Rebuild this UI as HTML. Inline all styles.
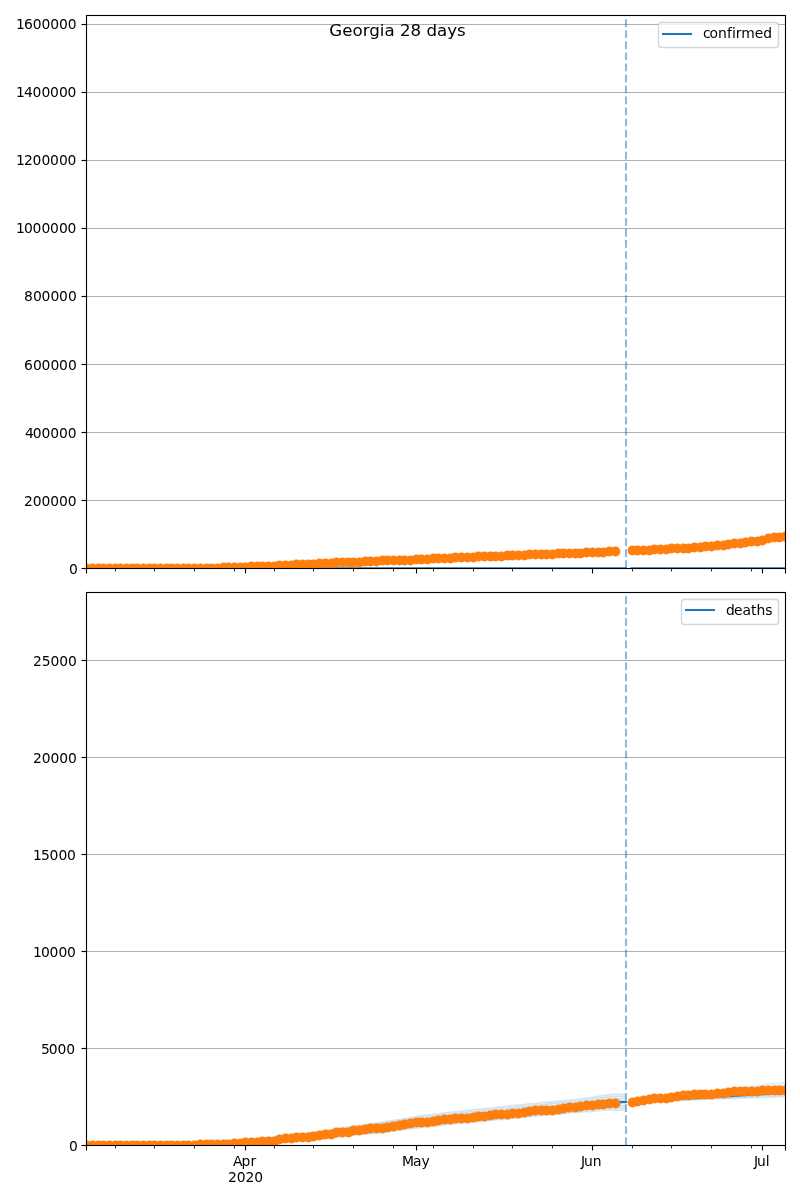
<!DOCTYPE html>
<html lang="en"><head><meta charset="utf-8"><title>Georgia 28 days</title>
<style>html,body{margin:0;padding:0;background:#fff}body{width:800px;height:1200px;overflow:hidden}svg{display:block}text{font-family:"DejaVu Sans","Liberation Sans",sans-serif;font-size:13.889px;fill:#000}.g{stroke:#b0b0b0;stroke-width:1.11}.s{stroke:#000;stroke-width:1.11;fill:none}.t{stroke:#000;stroke-width:1.11}.m{stroke:#000;stroke-width:0.83}.b{stroke:#1f77b4;stroke-width:2.083;fill:none;stroke-linecap:square}.o{fill:#ff7f0e}.v{stroke:#1f77b4;stroke-opacity:.5;stroke-width:2.083;stroke-dasharray:7.708 3.333;fill:none}</style></head><body>
<svg width="800" height="1200" viewBox="0 0 800 1200">
<rect width="800" height="1200" fill="#fff"/>
<defs><clipPath id="c0"><rect x="86.22" y="15" width="698.78" height="553.29"/></clipPath><clipPath id="c1"><rect x="86.22" y="591.79" width="698.78" height="553.29"/></clipPath></defs>
<g id="ax0">
<line class="g" x1="86.22" x2="785" y1="568.5" y2="568.5"/>
<line class="g" x1="86.22" x2="785" y1="500.5" y2="500.5"/>
<line class="g" x1="86.22" x2="785" y1="432.5" y2="432.5"/>
<line class="g" x1="86.22" x2="785" y1="364.5" y2="364.5"/>
<line class="g" x1="86.22" x2="785" y1="296.5" y2="296.5"/>
<line class="g" x1="86.22" x2="785" y1="228.5" y2="228.5"/>
<line class="g" x1="86.22" x2="785" y1="160.5" y2="160.5"/>
<line class="g" x1="86.22" x2="785" y1="92.5" y2="92.5"/>
<line class="g" x1="86.22" x2="785" y1="24.5" y2="24.5"/>
<g clip-path="url(#c0)"><path class="b" style="stroke-linecap:butt" d="M85,568.29 H626.97 M630.57,568.29 H787"/></g>
<g class="o" clip-path="url(#c0)">
<circle cx="86.5" cy="568.5" r="4.9"/>
<circle cx="92.5" cy="568.5" r="4.9"/>
<circle cx="98.5" cy="568.5" r="4.9"/>
<circle cx="103.5" cy="568.5" r="4.9"/>
<circle cx="109.5" cy="568.5" r="4.9"/>
<circle cx="115.5" cy="568.5" r="4.9"/>
<circle cx="120.5" cy="568.5" r="4.9"/>
<circle cx="126.5" cy="568.5" r="4.9"/>
<circle cx="132.5" cy="568.5" r="4.9"/>
<circle cx="137.5" cy="568.5" r="4.9"/>
<circle cx="143.5" cy="568.5" r="4.9"/>
<circle cx="149.5" cy="568.5" r="4.9"/>
<circle cx="154.5" cy="568.5" r="4.9"/>
<circle cx="160.5" cy="568.5" r="4.9"/>
<circle cx="166.5" cy="568.5" r="4.9"/>
<circle cx="171.5" cy="568.5" r="4.9"/>
<circle cx="177.5" cy="568.5" r="4.9"/>
<circle cx="183.5" cy="568.5" r="4.9"/>
<circle cx="188.5" cy="568.5" r="4.9"/>
<circle cx="194.5" cy="568.5" r="4.9"/>
<circle cx="200.5" cy="568.5" r="4.9"/>
<circle cx="206.5" cy="568.5" r="4.9"/>
<circle cx="211.5" cy="568.5" r="4.9"/>
<circle cx="217.5" cy="568.5" r="4.9"/>
<circle cx="223.5" cy="567.5" r="4.9"/>
<circle cx="228.5" cy="567.5" r="4.9"/>
<circle cx="234.5" cy="567.5" r="4.9"/>
<circle cx="240.5" cy="567.5" r="4.9"/>
<circle cx="245.5" cy="567.5" r="4.9"/>
<circle cx="251.5" cy="566.5" r="4.9"/>
<circle cx="257.5" cy="566.5" r="4.9"/>
<circle cx="262.5" cy="566.5" r="4.9"/>
<circle cx="268.5" cy="566.5" r="4.9"/>
<circle cx="274.5" cy="566.5" r="4.9"/>
<circle cx="279.5" cy="565.5" r="4.9"/>
<circle cx="285.5" cy="565.5" r="4.9"/>
<circle cx="291.5" cy="565.5" r="4.9"/>
<circle cx="296.5" cy="564.5" r="4.9"/>
<circle cx="302.5" cy="564.5" r="4.9"/>
<circle cx="308.5" cy="564.5" r="4.9"/>
<circle cx="313.5" cy="564.5" r="4.9"/>
<circle cx="319.5" cy="563.5" r="4.9"/>
<circle cx="325.5" cy="563.5" r="4.9"/>
<circle cx="331.5" cy="563.5" r="4.9"/>
<circle cx="336.5" cy="562.5" r="4.9"/>
<circle cx="342.5" cy="562.5" r="4.9"/>
<circle cx="348.5" cy="562.5" r="4.9"/>
<circle cx="353.5" cy="562.5" r="4.9"/>
<circle cx="359.5" cy="562.5" r="4.9"/>
<circle cx="365.5" cy="561.5" r="4.9"/>
<circle cx="370.5" cy="561.5" r="4.9"/>
<circle cx="376.5" cy="561.5" r="4.9"/>
<circle cx="382.5" cy="560.5" r="4.9"/>
<circle cx="387.5" cy="560.5" r="4.9"/>
<circle cx="393.5" cy="560.5" r="4.9"/>
<circle cx="399.5" cy="560.5" r="4.9"/>
<circle cx="404.5" cy="560.5" r="4.9"/>
<circle cx="410.5" cy="560.5" r="4.9"/>
<circle cx="416.5" cy="559.5" r="4.9"/>
<circle cx="421.5" cy="559.5" r="4.9"/>
<circle cx="427.5" cy="559.5" r="4.9"/>
<circle cx="433.5" cy="558.5" r="4.9"/>
<circle cx="438.5" cy="558.5" r="4.9"/>
<circle cx="444.5" cy="558.5" r="4.9"/>
<circle cx="450.5" cy="558.5" r="4.9"/>
<circle cx="455.5" cy="557.5" r="4.9"/>
<circle cx="461.5" cy="557.5" r="4.9"/>
<circle cx="467.5" cy="557.5" r="4.9"/>
<circle cx="473.5" cy="557.5" r="4.9"/>
<circle cx="478.5" cy="556.5" r="4.9"/>
<circle cx="484.5" cy="556.5" r="4.9"/>
<circle cx="490.5" cy="556.5" r="4.9"/>
<circle cx="495.5" cy="556.5" r="4.9"/>
<circle cx="501.5" cy="556.5" r="4.9"/>
<circle cx="507.5" cy="555.5" r="4.9"/>
<circle cx="512.5" cy="555.5" r="4.9"/>
<circle cx="518.5" cy="555.5" r="4.9"/>
<circle cx="524.5" cy="555.5" r="4.9"/>
<circle cx="529.5" cy="554.5" r="4.9"/>
<circle cx="535.5" cy="554.5" r="4.9"/>
<circle cx="541.5" cy="554.5" r="4.9"/>
<circle cx="546.5" cy="554.5" r="4.9"/>
<circle cx="552.5" cy="554.5" r="4.9"/>
<circle cx="558.5" cy="553.5" r="4.9"/>
<circle cx="563.5" cy="553.5" r="4.9"/>
<circle cx="569.5" cy="553.5" r="4.9"/>
<circle cx="575.5" cy="553.5" r="4.9"/>
<circle cx="580.5" cy="553.5" r="4.9"/>
<circle cx="586.5" cy="552.5" r="4.9"/>
<circle cx="592.5" cy="552.5" r="4.9"/>
<circle cx="598.5" cy="552.5" r="4.9"/>
<circle cx="603.5" cy="552.5" r="4.9"/>
<circle cx="609.5" cy="551.5" r="4.9"/>
<circle cx="615.5" cy="551.5" r="4.9"/>
<circle cx="632.5" cy="550.5" r="4.9"/>
<circle cx="637.5" cy="550.5" r="4.9"/>
<circle cx="643.5" cy="550.5" r="4.9"/>
<circle cx="649.5" cy="550.5" r="4.9"/>
<circle cx="654.5" cy="549.5" r="4.9"/>
<circle cx="660.5" cy="549.5" r="4.9"/>
<circle cx="666.5" cy="549.5" r="4.9"/>
<circle cx="671.5" cy="548.5" r="4.9"/>
<circle cx="677.5" cy="548.5" r="4.9"/>
<circle cx="683.5" cy="548.5" r="4.9"/>
<circle cx="688.5" cy="548.5" r="4.9"/>
<circle cx="694.5" cy="547.5" r="4.9"/>
<circle cx="700.5" cy="547.5" r="4.9"/>
<circle cx="705.5" cy="546.5" r="4.9"/>
<circle cx="711.5" cy="546.5" r="4.9"/>
<circle cx="717.5" cy="545.5" r="4.9"/>
<circle cx="723.5" cy="545.5" r="4.9"/>
<circle cx="728.5" cy="544.5" r="4.9"/>
<circle cx="734.5" cy="543.5" r="4.9"/>
<circle cx="740.5" cy="543.5" r="4.9"/>
<circle cx="745.5" cy="542.5" r="4.9"/>
<circle cx="751.5" cy="541.5" r="4.9"/>
<circle cx="757.5" cy="541.5" r="4.9"/>
<circle cx="762.5" cy="540.5" r="4.9"/>
<circle cx="768.5" cy="538.5" r="4.9"/>
<circle cx="774.5" cy="537.5" r="4.9"/>
<circle cx="779.5" cy="537.5" r="4.9"/>
<circle cx="785.5" cy="536.5" r="4.9"/>
</g>
<line class="v" x1="626" x2="626" y1="568" y2="15"/>
<rect class="s" x="86.5" y="15.5" width="699" height="553"/>
<line class="t" x1="81.5" x2="86.5" y1="568.5" y2="568.5"/>
<text x="69" y="574">0</text>
<line class="t" x1="81.5" x2="86.5" y1="500.5" y2="500.5"/>
<text x="24 32.75 41.5 50.25 59 67.75" y="506">200000</text>
<line class="t" x1="81.5" x2="86.5" y1="432.5" y2="432.5"/>
<text x="25 32.75 41.5 50.25 59 67.75" y="438">400000</text>
<line class="t" x1="81.5" x2="86.5" y1="364.5" y2="364.5"/>
<text x="24 32.88 41.62 50.38 59.12 67.88" y="370">600000</text>
<line class="t" x1="81.5" x2="86.5" y1="296.5" y2="296.5"/>
<text x="24 32.88 41.62 50.38 59.12 67.88" y="301">800000</text>
<line class="t" x1="81.5" x2="86.5" y1="228.5" y2="228.5"/>
<text x="16 23.88 32.62 41.38 50.12 58.88 67.62" y="233">1000000</text>
<line class="t" x1="81.5" x2="86.5" y1="160.5" y2="160.5"/>
<text x="16 23.88 32.62 41.38 50.12 58.88 67.62" y="165">1200000</text>
<line class="t" x1="81.5" x2="86.5" y1="92.5" y2="92.5"/>
<text x="16 23.88 32.62 41.38 50.12 58.88 67.62" y="97">1400000</text>
<line class="t" x1="81.5" x2="86.5" y1="24.5" y2="24.5"/>
<text x="16 23.88 32.75 41.5 50.25 59 67.75" y="29">1600000</text>
<line class="t" x1="86.5" x2="86.5" y1="568.5" y2="573.5"/>
<line class="t" x1="245.5" x2="245.5" y1="568.5" y2="573.5"/>
<line class="t" x1="416.5" x2="416.5" y1="568.5" y2="573.5"/>
<line class="t" x1="592.5" x2="592.5" y1="568.5" y2="573.5"/>
<line class="t" x1="762.5" x2="762.5" y1="568.5" y2="573.5"/>
<line class="t" x1="785.5" x2="785.5" y1="568.5" y2="573.5"/>
<line class="m" x1="115.5" x2="115.5" y1="568.5" y2="571.5"/>
<line class="m" x1="154.5" x2="154.5" y1="568.5" y2="571.5"/>
<line class="m" x1="194.5" x2="194.5" y1="568.5" y2="571.5"/>
<line class="m" x1="234.5" x2="234.5" y1="568.5" y2="571.5"/>
<line class="m" x1="274.5" x2="274.5" y1="568.5" y2="571.5"/>
<line class="m" x1="313.5" x2="313.5" y1="568.5" y2="571.5"/>
<line class="m" x1="353.5" x2="353.5" y1="568.5" y2="571.5"/>
<line class="m" x1="393.5" x2="393.5" y1="568.5" y2="571.5"/>
<line class="m" x1="433.5" x2="433.5" y1="568.5" y2="571.5"/>
<line class="m" x1="473.5" x2="473.5" y1="568.5" y2="571.5"/>
<line class="m" x1="512.5" x2="512.5" y1="568.5" y2="571.5"/>
<line class="m" x1="552.5" x2="552.5" y1="568.5" y2="571.5"/>
<line class="m" x1="592.5" x2="592.5" y1="568.5" y2="571.5"/>
<line class="m" x1="632.5" x2="632.5" y1="568.5" y2="571.5"/>
<line class="m" x1="671.5" x2="671.5" y1="568.5" y2="571.5"/>
<line class="m" x1="711.5" x2="711.5" y1="568.5" y2="571.5"/>
<line class="m" x1="751.5" x2="751.5" y1="568.5" y2="571.5"/>
<rect x="658.5" y="22.5" width="120" height="25" rx="2.78" ry="2.78" fill="#fff" fill-opacity="0.8" stroke="#ccc" stroke-opacity="0.8" stroke-width="1.389"/>
<line x1="662" x2="692" y1="34" y2="34" stroke="#1f77b4" stroke-width="2.083"/>
<text x="703 709.62 718.12 726.88 731.88 735.75 741.25 754.75 763.25" y="38">confirmed</text>
</g>
<g id="ax1">
<g clip-path="url(#c1)" fill="none" stroke="#1f77b4" stroke-width="1.5" stroke-opacity="0.16" stroke-linejoin="round">
<path stroke="none" fill="#1f77b4" fill-opacity="0.07" d="M86.22,1144.58 91.9,1144.51 97.58,1144.43 103.27,1144.36 108.95,1144.29 114.63,1144.22 120.31,1144.14 125.99,1144.07 131.67,1144 137.35,1143.92 143.03,1143.85 148.71,1143.77 154.4,1143.68 160.08,1143.57 165.76,1143.46 171.44,1143.33 177.12,1143.19 182.8,1143.04 188.48,1142.86 194.16,1142.68 199.84,1142.47 205.53,1142.24 211.21,1142.01 216.89,1141.77 222.57,1141.49 228.25,1141.14 233.93,1140.75 239.61,1140.36 245.29,1139.9 250.97,1139.47 256.66,1139.01 262.34,1138.32 268.02,1137.63 273.7,1136.96 279.38,1136.24 285.06,1135.56 290.74,1134.82 296.42,1134.05 302.1,1133.45 307.79,1132.81 313.47,1132.14 319.15,1131.37 324.83,1130.57 330.51,1129.75 336.19,1128.77 341.87,1127.82 347.55,1126.92 353.23,1125.98 358.92,1125.19 364.6,1124.43 370.28,1123.68 375.96,1122.97 381.64,1122.14 387.32,1121.26 393,1120.37 398.68,1119.43 404.36,1118.51 410.05,1117.61 415.73,1116.68 421.41,1115.8 427.09,1114.99 432.77,1114.32 438.45,1113.62 444.13,1112.94 449.81,1112.25 455.5,1111.64 461.18,1111.03 466.86,1110.44 472.54,1109.84 478.22,1109.26 483.9,1108.64 489.58,1108.02 495.26,1107.38 500.94,1106.82 506.63,1106.29 512.31,1105.59 517.99,1105.04 523.67,1104.47 529.35,1103.87 535.03,1103.38 540.71,1102.85 546.39,1102.27 552.07,1101.79 557.76,1101.27 563.44,1100.73 569.12,1100.09 574.8,1099.41 580.48,1098.75 586.16,1097.98 591.84,1097.32 597.52,1096.25 603.2,1095.41 608.89,1094.8 614.57,1094.3 620.25,1093.9 625.93,1093.67 625.93,1110.67 620.25,1110.33 614.57,1110.17 608.89,1110.11 603.2,1110.16 597.52,1110.67 591.84,1111.41 586.16,1111.75 580.48,1112.18 574.8,1112.62 569.12,1113.09 563.44,1113.72 557.76,1114.25 552.07,1114.77 546.39,1115.24 540.71,1115.81 535.03,1116.33 529.35,1116.81 523.67,1117.41 517.99,1117.96 512.31,1118.5 506.63,1119.13 500.94,1119.6 495.26,1120.09 489.58,1120.66 483.9,1121.21 478.22,1121.76 472.54,1122.28 466.86,1122.8 461.18,1123.32 455.5,1123.87 449.81,1124.41 444.13,1125.03 438.45,1125.65 432.77,1126.27 427.09,1126.87 421.41,1127.5 415.73,1128.21 410.05,1128.96 404.36,1129.68 398.68,1130.42 393,1131.18 387.32,1131.89 381.64,1132.6 375.96,1133.25 370.28,1133.78 364.6,1134.25 358.92,1134.74 353.23,1135.26 347.55,1135.92 341.87,1136.56 336.19,1137.23 330.51,1137.94 324.83,1138.49 319.15,1139.01 313.47,1139.51 307.79,1139.9 302.1,1140.27 296.42,1140.6 290.74,1141.09 285.06,1141.56 279.38,1142.09 273.7,1142.68 268.02,1143.2 262.34,1143.75 256.66,1144.29 250.97,1144.61 245.29,1144.9 239.61,1145.22 233.93,1145.47 228.25,1145.72 222.57,1145.92 216.89,1146.06 211.21,1146.16 205.53,1146.24 199.84,1146.32 194.16,1146.39 188.48,1146.43 182.8,1146.47 177.12,1146.48 171.44,1146.47 165.76,1146.46 160.08,1146.43 154.4,1146.39 148.71,1146.34 143.03,1146.28 137.35,1146.21 131.67,1146.14 125.99,1146.07 120.31,1146 114.63,1145.93 108.95,1145.86 103.27,1145.79 97.58,1145.72 91.9,1145.65 86.22,1145.58Z"/>
<polyline points="86.22,1145.58 91.9,1145.65 97.58,1145.72 103.27,1145.79 108.95,1145.86 114.63,1145.93 120.31,1146 125.99,1146.07 131.67,1146.14 137.35,1146.21 143.03,1146.28 148.71,1146.34 154.4,1146.39 160.08,1146.43 165.76,1146.46 171.44,1146.47 177.12,1146.48 182.8,1146.47 188.48,1146.43 194.16,1146.39 199.84,1146.32 205.53,1146.24 211.21,1146.16 216.89,1146.06 222.57,1145.92 228.25,1145.72 233.93,1145.47 239.61,1145.22 245.29,1144.9 250.97,1144.61 256.66,1144.29 262.34,1143.75 268.02,1143.2 273.7,1142.68 279.38,1142.09 285.06,1141.56 290.74,1141.09 296.42,1140.6 302.1,1140.27 307.79,1139.9 313.47,1139.51 319.15,1139.01 324.83,1138.49 330.51,1137.94 336.19,1137.23 341.87,1136.56 347.55,1135.92 353.23,1135.26 358.92,1134.74 364.6,1134.25 370.28,1133.78 375.96,1133.25 381.64,1132.6 387.32,1131.89 393,1131.18 398.68,1130.42 404.36,1129.68 410.05,1128.96 415.73,1128.21 421.41,1127.5 427.09,1126.87 432.77,1126.27 438.45,1125.65 444.13,1125.03 449.81,1124.41 455.5,1123.87 461.18,1123.32 466.86,1122.8 472.54,1122.28 478.22,1121.76 483.9,1121.21 489.58,1120.66 495.26,1120.09 500.94,1119.6 506.63,1119.13 512.31,1118.5 517.99,1117.96 523.67,1117.41 529.35,1116.81 535.03,1116.33 540.71,1115.81 546.39,1115.24 552.07,1114.77 557.76,1114.25 563.44,1113.72 569.12,1113.09 574.8,1112.62 580.48,1112.18 586.16,1111.75 591.84,1111.41 597.52,1110.67 603.2,1110.16 608.89,1110.11 614.57,1110.17 620.25,1110.33 625.93,1110.67"/>
<polyline points="86.22,1145.44 91.9,1145.49 97.58,1145.54 103.27,1145.59 108.95,1145.64 114.63,1145.69 120.31,1145.74 125.99,1145.79 131.67,1145.84 137.35,1145.89 143.03,1145.94 148.71,1145.98 154.4,1146.01 160.08,1146.03 165.76,1146.04 171.44,1146.03 177.12,1146.02 182.8,1145.99 188.48,1145.93 194.16,1145.87 199.84,1145.78 205.53,1145.68 211.21,1145.58 216.89,1145.46 222.57,1145.3 228.25,1145.08 233.93,1144.81 239.61,1144.54 245.29,1144.2 250.97,1143.89 256.66,1143.55 262.34,1142.99 268.02,1142.42 273.7,1141.88 279.38,1141.27 285.06,1140.72 290.74,1140.21 296.42,1139.67 302.1,1139.3 307.79,1138.89 313.47,1138.45 319.15,1137.92 324.83,1137.35 330.51,1136.75 336.19,1136 341.87,1135.29 347.55,1134.61 353.23,1133.9 358.92,1133.34 364.6,1132.81 370.28,1132.3 375.96,1131.76 381.64,1131.11 387.32,1130.4 393,1129.69 398.68,1128.92 404.36,1128.18 410.05,1127.45 415.73,1126.71 421.41,1126 427.09,1125.37 432.77,1124.76 438.45,1124.13 444.13,1123.51 449.81,1122.89 455.5,1122.35 461.18,1121.8 466.86,1121.28 472.54,1120.75 478.22,1120.23 483.9,1119.68 489.58,1119.12 495.26,1118.55 500.94,1118.06 506.63,1117.59 512.31,1116.96 517.99,1116.42 523.67,1115.86 529.35,1115.26 535.03,1114.77 540.71,1114.25 546.39,1113.68 552.07,1113.21 557.76,1112.69 563.44,1112.15 569.12,1111.52 574.8,1110.99 580.48,1110.49 586.16,1110 591.84,1109.6 597.52,1108.8 603.2,1108.23 608.89,1108.05 614.57,1107.99 620.25,1108.02 625.93,1108.23"/>
<polyline points="86.22,1145.3 91.9,1145.33 97.58,1145.36 103.27,1145.39 108.95,1145.42 114.63,1145.45 120.31,1145.48 125.99,1145.51 131.67,1145.54 137.35,1145.57 143.03,1145.6 148.71,1145.62 154.4,1145.63 160.08,1145.63 165.76,1145.62 171.44,1145.59 177.12,1145.56 182.8,1145.51 188.48,1145.43 194.16,1145.35 199.84,1145.24 205.53,1145.12 211.21,1145 216.89,1144.86 222.57,1144.68 228.25,1144.44 233.93,1144.15 239.61,1143.86 245.29,1143.5 250.97,1143.17 256.66,1142.81 262.34,1142.23 268.02,1141.64 273.7,1141.08 279.38,1140.45 285.06,1139.88 290.74,1139.33 296.42,1138.74 302.1,1138.34 307.79,1137.88 313.47,1137.4 319.15,1136.82 324.83,1136.21 330.51,1135.57 336.19,1134.78 341.87,1134.02 347.55,1133.3 353.23,1132.55 358.92,1131.94 364.6,1131.37 370.28,1130.81 375.96,1130.28 381.64,1129.62 387.32,1128.91 393,1128.19 398.68,1127.43 404.36,1126.68 410.05,1125.95 415.73,1125.2 421.41,1124.49 427.09,1123.86 432.77,1123.25 438.45,1122.62 444.13,1122 449.81,1121.37 455.5,1120.83 461.18,1120.28 466.86,1119.75 472.54,1119.22 478.22,1118.7 483.9,1118.14 489.58,1117.59 495.26,1117.02 500.94,1116.52 506.63,1116.05 512.31,1115.41 517.99,1114.87 523.67,1114.31 529.35,1113.71 535.03,1113.22 540.71,1112.7 546.39,1112.12 552.07,1111.64 557.76,1111.12 563.44,1110.59 569.12,1109.95 574.8,1109.37 580.48,1108.8 586.16,1108.25 591.84,1107.79 597.52,1106.93 603.2,1106.3 608.89,1105.99 614.57,1105.8 620.25,1105.71 625.93,1105.79"/>
<polyline points="86.22,1145.16 91.9,1145.17 97.58,1145.18 103.27,1145.19 108.95,1145.2 114.63,1145.21 120.31,1145.22 125.99,1145.23 131.67,1145.24 137.35,1145.25 143.03,1145.26 148.71,1145.26 154.4,1145.25 160.08,1145.23 165.76,1145.2 171.44,1145.15 177.12,1145.1 182.8,1145.03 188.48,1144.93 194.16,1144.83 199.84,1144.7 205.53,1144.56 211.21,1144.42 216.89,1144.26 222.57,1144.06 228.25,1143.8 233.93,1143.49 239.61,1143.18 245.29,1142.8 250.97,1142.45 256.66,1142.07 262.34,1141.47 268.02,1140.86 273.7,1140.28 279.38,1139.63 285.06,1139.04 290.74,1138.45 296.42,1137.82 302.1,1137.37 307.79,1136.87 313.47,1136.34 319.15,1135.72 324.83,1135.07 330.51,1134.39 336.19,1133.55 341.87,1132.75 347.55,1131.99 353.23,1131.19 358.92,1130.54 364.6,1129.93 370.28,1129.33 375.96,1128.79 381.64,1128.13 387.32,1127.42 393,1126.7 398.68,1125.93 404.36,1125.19 410.05,1124.45 415.73,1123.7 421.41,1122.99 427.09,1122.35 432.77,1121.74 438.45,1121.11 444.13,1120.48 449.81,1119.85 455.5,1119.31 461.18,1118.76 466.86,1118.23 472.54,1117.69 478.22,1117.17 483.9,1116.61 489.58,1116.06 495.26,1115.48 500.94,1114.98 506.63,1114.51 512.31,1113.87 517.99,1113.33 523.67,1112.76 529.35,1112.16 535.03,1111.66 540.71,1111.14 546.39,1110.56 552.07,1110.08 557.76,1109.56 563.44,1109.02 569.12,1108.39 574.8,1107.74 580.48,1107.12 586.16,1106.5 591.84,1105.98 597.52,1105.05 603.2,1104.36 608.89,1103.94 614.57,1103.62 620.25,1103.4 625.93,1103.36"/>
<polyline points="86.22,1145 91.9,1144.99 97.58,1144.97 103.27,1144.96 108.95,1144.95 114.63,1144.94 120.31,1144.92 125.99,1144.91 131.67,1144.9 137.35,1144.88 143.03,1144.87 148.71,1144.85 154.4,1144.82 160.08,1144.77 165.76,1144.72 171.44,1144.65 177.12,1144.57 182.8,1144.48 188.48,1144.36 194.16,1144.24 199.84,1144.09 205.53,1143.92 211.21,1143.75 216.89,1143.57 222.57,1143.35 228.25,1143.06 233.93,1142.73 239.61,1142.4 245.29,1142 250.97,1141.63 256.66,1141.23 262.34,1140.6 268.02,1139.97 273.7,1139.36 279.38,1138.7 285.06,1138.08 290.74,1137.44 296.42,1136.77 302.1,1136.28 307.79,1135.73 313.47,1135.17 319.15,1134.5 324.83,1133.8 330.51,1133.08 336.19,1132.2 341.87,1131.35 347.55,1130.55 353.23,1129.71 358.92,1129.02 364.6,1128.36 370.28,1127.71 375.96,1127.14 381.64,1126.46 387.32,1125.72 393,1124.97 398.68,1124.17 404.36,1123.4 410.05,1122.64 415.73,1121.86 421.41,1121.11 427.09,1120.45 432.77,1119.83 438.45,1119.18 444.13,1118.55 449.81,1117.91 455.5,1117.35 461.18,1116.79 466.86,1116.25 472.54,1115.71 478.22,1115.17 483.9,1114.6 489.58,1114.03 495.26,1113.45 500.94,1112.93 506.63,1112.45 512.31,1111.8 517.99,1111.26 523.67,1110.69 529.35,1110.09 535.03,1109.59 540.71,1109.07 546.39,1108.49 552.07,1108.01 557.76,1107.48 563.44,1106.94 569.12,1106.31 574.8,1105.62 580.48,1104.97 586.16,1104.29 591.84,1103.72 597.52,1102.75 603.2,1102 608.89,1101.49 614.57,1101.08 620.25,1100.77 625.93,1100.64"/>
<polyline points="86.22,1144.86 91.9,1144.83 97.58,1144.79 103.27,1144.76 108.95,1144.73 114.63,1144.7 120.31,1144.66 125.99,1144.63 131.67,1144.6 137.35,1144.56 143.03,1144.53 148.71,1144.49 154.4,1144.44 160.08,1144.37 165.76,1144.3 171.44,1144.21 177.12,1144.11 182.8,1144 188.48,1143.86 194.16,1143.72 199.84,1143.55 205.53,1143.36 211.21,1143.17 216.89,1142.97 222.57,1142.73 228.25,1142.42 233.93,1142.07 239.61,1141.72 245.29,1141.3 250.97,1140.91 256.66,1140.49 262.34,1139.84 268.02,1139.19 273.7,1138.56 279.38,1137.88 285.06,1137.24 290.74,1136.57 296.42,1135.86 302.1,1135.34 307.79,1134.76 313.47,1134.16 319.15,1133.46 324.83,1132.72 330.51,1131.97 336.19,1131.05 341.87,1130.18 347.55,1129.34 353.23,1128.46 358.92,1127.74 364.6,1127.05 370.28,1126.37 375.96,1125.75 381.64,1125.02 387.32,1124.23 393,1123.43 398.68,1122.59 404.36,1121.77 410.05,1120.96 415.73,1120.13 421.41,1119.34 427.09,1118.63 432.77,1117.99 438.45,1117.33 444.13,1116.68 449.81,1116.02 455.5,1115.45 461.18,1114.87 466.86,1114.31 472.54,1113.75 478.22,1113.2 483.9,1112.61 489.58,1112.03 495.26,1111.43 500.94,1110.9 506.63,1110.4 512.31,1109.73 517.99,1109.19 523.67,1108.62 529.35,1108.01 535.03,1107.52 540.71,1106.99 546.39,1106.42 552.07,1105.94 557.76,1105.41 563.44,1104.87 569.12,1104.23 574.8,1103.55 580.48,1102.89 586.16,1102.19 591.84,1101.59 597.52,1100.58 603.2,1099.81 608.89,1099.26 614.57,1098.82 620.25,1098.48 625.93,1098.31"/>
<polyline points="86.22,1144.72 91.9,1144.67 97.58,1144.61 103.27,1144.56 108.95,1144.51 114.63,1144.46 120.31,1144.4 125.99,1144.35 131.67,1144.3 137.35,1144.24 143.03,1144.19 148.71,1144.13 154.4,1144.06 160.08,1143.97 165.76,1143.88 171.44,1143.77 177.12,1143.65 182.8,1143.52 188.48,1143.36 194.16,1143.2 199.84,1143.01 205.53,1142.8 211.21,1142.59 216.89,1142.37 222.57,1142.11 228.25,1141.78 233.93,1141.41 239.61,1141.04 245.29,1140.6 250.97,1140.19 256.66,1139.75 262.34,1139.08 268.02,1138.41 273.7,1137.76 279.38,1137.06 285.06,1136.4 290.74,1135.69 296.42,1134.96 302.1,1134.39 307.79,1133.78 313.47,1133.15 319.15,1132.41 324.83,1131.65 330.51,1130.86 336.19,1129.91 341.87,1129 347.55,1128.13 353.23,1127.22 358.92,1126.46 364.6,1125.74 370.28,1125.03 375.96,1124.36 381.64,1123.58 387.32,1122.74 393,1121.9 398.68,1121.01 404.36,1120.14 410.05,1119.28 415.73,1118.41 421.41,1117.57 427.09,1116.81 432.77,1116.16 438.45,1115.48 444.13,1114.81 449.81,1114.13 455.5,1113.54 461.18,1112.95 466.86,1112.37 472.54,1111.8 478.22,1111.23 483.9,1110.62 489.58,1110.02 495.26,1109.4 500.94,1108.86 506.63,1108.34 512.31,1107.66 517.99,1107.11 523.67,1106.55 529.35,1105.94 535.03,1105.45 540.71,1104.92 546.39,1104.35 552.07,1103.86 557.76,1103.34 563.44,1102.8 569.12,1102.16 574.8,1101.48 580.48,1100.82 586.16,1100.09 591.84,1099.45 597.52,1098.41 603.2,1097.61 608.89,1097.03 614.57,1096.56 620.25,1096.19 625.93,1095.99"/>
<polyline points="86.22,1144.58 91.9,1144.51 97.58,1144.43 103.27,1144.36 108.95,1144.29 114.63,1144.22 120.31,1144.14 125.99,1144.07 131.67,1144 137.35,1143.92 143.03,1143.85 148.71,1143.77 154.4,1143.68 160.08,1143.57 165.76,1143.46 171.44,1143.33 177.12,1143.19 182.8,1143.04 188.48,1142.86 194.16,1142.68 199.84,1142.47 205.53,1142.24 211.21,1142.01 216.89,1141.77 222.57,1141.49 228.25,1141.14 233.93,1140.75 239.61,1140.36 245.29,1139.9 250.97,1139.47 256.66,1139.01 262.34,1138.32 268.02,1137.63 273.7,1136.96 279.38,1136.24 285.06,1135.56 290.74,1134.82 296.42,1134.05 302.1,1133.45 307.79,1132.81 313.47,1132.14 319.15,1131.37 324.83,1130.57 330.51,1129.75 336.19,1128.77 341.87,1127.82 347.55,1126.92 353.23,1125.98 358.92,1125.19 364.6,1124.43 370.28,1123.68 375.96,1122.97 381.64,1122.14 387.32,1121.26 393,1120.37 398.68,1119.43 404.36,1118.51 410.05,1117.61 415.73,1116.68 421.41,1115.8 427.09,1114.99 432.77,1114.32 438.45,1113.62 444.13,1112.94 449.81,1112.25 455.5,1111.64 461.18,1111.03 466.86,1110.44 472.54,1109.84 478.22,1109.26 483.9,1108.64 489.58,1108.02 495.26,1107.38 500.94,1106.82 506.63,1106.29 512.31,1105.59 517.99,1105.04 523.67,1104.47 529.35,1103.87 535.03,1103.38 540.71,1102.85 546.39,1102.27 552.07,1101.79 557.76,1101.27 563.44,1100.73 569.12,1100.09 574.8,1099.41 580.48,1098.75 586.16,1097.98 591.84,1097.32 597.52,1096.25 603.2,1095.41 608.89,1094.8 614.57,1094.3 620.25,1093.9 625.93,1093.67"/>
<polyline points="631.61,1101.79 637.29,1101.07 642.97,1100.36 648.65,1099.64 654.33,1098.92 660.02,1098.2 665.7,1097.48 671.38,1096.76 677.06,1096.05 682.74,1095.33 688.42,1094.61 694.1,1093.89 699.78,1093.17 705.46,1092.46 711.15,1091.74 716.83,1091.02 722.51,1090.3 728.19,1089.58 733.87,1088.86 739.55,1088.15 745.23,1087.43 750.91,1086.71 756.59,1085.99 762.28,1085.27 767.96,1084.55 773.64,1083.84 779.32,1083.12 785,1082.4"/>
<polyline points="631.61,1101.79 637.29,1101.17 642.97,1100.54 648.65,1099.92 654.33,1099.29 660.02,1098.66 665.7,1098.04 671.38,1097.41 677.06,1096.79 682.74,1096.16 688.42,1095.54 694.1,1094.91 699.78,1094.28 705.46,1093.66 711.15,1093.03 716.83,1092.41 722.51,1091.78 728.19,1091.16 733.87,1090.53 739.55,1089.91 745.23,1089.28 750.91,1088.65 756.59,1088.03 762.28,1087.4 767.96,1086.78 773.64,1086.15 779.32,1085.53 785,1084.9"/>
<polyline points="631.61,1101.79 637.29,1101.25 642.97,1100.7 648.65,1100.16 654.33,1099.62 660.02,1099.07 665.7,1098.53 671.38,1097.98 677.06,1097.44 682.74,1096.89 688.42,1096.35 694.1,1095.81 699.78,1095.26 705.46,1094.72 711.15,1094.17 716.83,1093.63 722.51,1093.09 728.19,1092.54 733.87,1092 739.55,1091.45 745.23,1090.91 750.91,1090.36 756.59,1089.82 762.28,1089.28 767.96,1088.73 773.64,1088.19 779.32,1087.64 785,1087.1"/>
<polyline points="631.61,1101.79 637.29,1101.32 642.97,1100.85 648.65,1100.38 654.33,1099.91 660.02,1099.44 665.7,1098.97 671.38,1098.5 677.06,1098.03 682.74,1097.56 688.42,1097.09 694.1,1096.62 699.78,1096.15 705.46,1095.68 711.15,1095.21 716.83,1094.74 722.51,1094.27 728.19,1093.8 733.87,1093.33 739.55,1092.86 745.23,1092.39 750.91,1091.92 756.59,1091.45 762.28,1090.98 767.96,1090.51 773.64,1090.04 779.32,1089.57 785,1089.1"/>
<polyline points="631.61,1101.79 637.29,1101.39 642.97,1100.99 648.65,1100.59 654.33,1100.19 660.02,1099.79 665.7,1099.39 671.38,1098.99 677.06,1098.59 682.74,1098.19 688.42,1097.8 694.1,1097.4 699.78,1097 705.46,1096.6 711.15,1096.2 716.83,1095.8 722.51,1095.4 728.19,1095 733.87,1094.6 739.55,1094.2 745.23,1093.8 750.91,1093.4 756.59,1093 762.28,1092.6 767.96,1092.2 773.64,1091.8 779.32,1091.4 785,1091"/>
<polyline points="631.61,1101.79 637.29,1101.51 642.97,1101.23 648.65,1100.95 654.33,1100.67 660.02,1100.39 665.7,1100.1 671.38,1099.82 677.06,1099.54 682.74,1099.26 688.42,1098.98 694.1,1098.7 699.78,1098.42 705.46,1098.14 711.15,1097.86 716.83,1097.57 722.51,1097.29 728.19,1097.01 733.87,1096.73 739.55,1096.45 745.23,1096.17 750.91,1095.89 756.59,1095.61 762.28,1095.32 767.96,1095.04 773.64,1094.76 779.32,1094.48 785,1094.2"/>
<polyline points="631.61,1101.79 637.29,1101.56 642.97,1101.33 648.65,1101.09 654.33,1100.86 660.02,1100.63 665.7,1100.39 671.38,1100.16 677.06,1099.93 682.74,1099.69 688.42,1099.46 694.1,1099.23 699.78,1099 705.46,1098.76 711.15,1098.53 716.83,1098.3 722.51,1098.06 728.19,1097.83 733.87,1097.6 739.55,1097.36 745.23,1097.13 750.91,1096.9 756.59,1096.67 762.28,1096.43 767.96,1096.2 773.64,1095.97 779.32,1095.73 785,1095.5"/>
<polyline points="631.61,1101.79 637.29,1101.61 642.97,1101.43 648.65,1101.25 654.33,1101.07 660.02,1100.89 665.7,1100.7 671.38,1100.52 677.06,1100.34 682.74,1100.16 688.42,1099.98 694.1,1099.8 699.78,1099.62 705.46,1099.44 711.15,1099.26 716.83,1099.07 722.51,1098.89 728.19,1098.71 733.87,1098.53 739.55,1098.35 745.23,1098.17 750.91,1097.99 756.59,1097.81 762.28,1097.62 767.96,1097.44 773.64,1097.26 779.32,1097.08 785,1096.9"/>
</g>
<line class="g" x1="86.22" x2="785" y1="1145.5" y2="1145.5"/>
<line class="g" x1="86.22" x2="785" y1="1048.5" y2="1048.5"/>
<line class="g" x1="86.22" x2="785" y1="951.5" y2="951.5"/>
<line class="g" x1="86.22" x2="785" y1="854.5" y2="854.5"/>
<line class="g" x1="86.22" x2="785" y1="757.5" y2="757.5"/>
<line class="g" x1="86.22" x2="785" y1="660.5" y2="660.5"/>
<g clip-path="url(#c1)"><polyline class="b" points="86.22,1145.08 91.9,1145.08 97.58,1145.08 103.27,1145.08 108.95,1145.08 114.63,1145.08 120.31,1145.07 125.99,1145.07 131.67,1145.07 137.35,1145.06 143.03,1145.06 148.71,1145.06 154.4,1145.03 160.08,1145 165.76,1144.96 171.44,1144.9 177.12,1144.84 182.8,1144.75 188.48,1144.64 194.16,1144.54 199.84,1144.4 205.53,1144.24 211.21,1144.09 216.89,1143.91 222.57,1143.7 228.25,1143.43 233.93,1143.11 239.61,1142.79 245.29,1142.4 250.97,1142.04 256.66,1141.65 262.34,1141.04 268.02,1140.42 273.7,1139.82 279.38,1139.17 285.06,1138.56 290.74,1137.94 296.42,1137.29 302.1,1136.81 307.79,1136.29 313.47,1135.74 319.15,1135.09 324.83,1134.41 330.51,1133.71 336.19,1132.85 341.87,1132.02 347.55,1131.24 353.23,1130.42 358.92,1129.75 364.6,1129.11 370.28,1128.48 375.96,1127.94 381.64,1127.28 387.32,1126.57 393,1125.85 398.68,1125.08 404.36,1124.33 410.05,1123.6 415.73,1122.84 421.41,1122.13 427.09,1121.49 432.77,1120.88 438.45,1120.24 444.13,1119.62 449.81,1118.99 455.5,1118.44 461.18,1117.89 466.86,1117.36 472.54,1116.82 478.22,1116.3 483.9,1115.74 489.58,1115.18 495.26,1114.6 500.94,1114.1 506.63,1113.63 512.31,1112.99 517.99,1112.44 523.67,1111.87 529.35,1111.27 535.03,1110.78 540.71,1110.25 546.39,1109.67 552.07,1109.19 557.76,1108.67 563.44,1108.13 569.12,1107.49 574.8,1106.81 580.48,1106.15 586.16,1105.5 591.84,1104.94 597.52,1103.98 603.2,1103.26 608.89,1102.76 614.57,1102.37 620.25,1102.08 625.93,1101.97"/>
<polyline class="b" points="631.61,1101.79 637.29,1101.46 642.97,1101.13 648.65,1100.8 654.33,1100.47 660.02,1100.15 665.7,1099.82 671.38,1099.49 677.06,1099.16 682.74,1098.83 688.42,1098.5 694.1,1098.17 699.78,1097.84 705.46,1097.51 711.15,1097.18 716.83,1096.85 722.51,1096.52 728.19,1096.19 733.87,1095.86 739.55,1095.53 745.23,1095.21 750.91,1094.88 756.59,1094.55 762.28,1094.22 767.96,1093.89 773.64,1093.56 779.32,1093.23 785,1092.9"/></g>
<g class="o" clip-path="url(#c1)">
<circle cx="86.5" cy="1145.5" r="4.9"/>
<circle cx="92.5" cy="1145.5" r="4.9"/>
<circle cx="98.5" cy="1145.5" r="4.9"/>
<circle cx="103.5" cy="1145.5" r="4.9"/>
<circle cx="109.5" cy="1145.5" r="4.9"/>
<circle cx="115.5" cy="1145.5" r="4.9"/>
<circle cx="120.5" cy="1145.5" r="4.9"/>
<circle cx="126.5" cy="1145.5" r="4.9"/>
<circle cx="132.5" cy="1145.5" r="4.9"/>
<circle cx="137.5" cy="1145.5" r="4.9"/>
<circle cx="143.5" cy="1145.5" r="4.9"/>
<circle cx="149.5" cy="1145.5" r="4.9"/>
<circle cx="154.5" cy="1145.5" r="4.9"/>
<circle cx="160.5" cy="1145.5" r="4.9"/>
<circle cx="166.5" cy="1145.5" r="4.9"/>
<circle cx="171.5" cy="1145.5" r="4.9"/>
<circle cx="177.5" cy="1145.5" r="4.9"/>
<circle cx="183.5" cy="1145.5" r="4.9"/>
<circle cx="188.5" cy="1145.5" r="4.9"/>
<circle cx="194.5" cy="1145.5" r="4.9"/>
<circle cx="200.5" cy="1144.5" r="4.9"/>
<circle cx="206.5" cy="1144.5" r="4.9"/>
<circle cx="211.5" cy="1144.5" r="4.9"/>
<circle cx="217.5" cy="1144.5" r="4.9"/>
<circle cx="223.5" cy="1144.5" r="4.9"/>
<circle cx="228.5" cy="1144.5" r="4.9"/>
<circle cx="234.5" cy="1143.5" r="4.9"/>
<circle cx="240.5" cy="1143.5" r="4.9"/>
<circle cx="245.5" cy="1142.5" r="4.9"/>
<circle cx="251.5" cy="1142.5" r="4.9"/>
<circle cx="257.5" cy="1142.5" r="4.9"/>
<circle cx="262.5" cy="1141.5" r="4.9"/>
<circle cx="268.5" cy="1141.5" r="4.9"/>
<circle cx="274.5" cy="1141.5" r="4.9"/>
<circle cx="279.5" cy="1139.5" r="4.9"/>
<circle cx="285.5" cy="1138.5" r="4.9"/>
<circle cx="291.5" cy="1138.5" r="4.9"/>
<circle cx="296.5" cy="1137.5" r="4.9"/>
<circle cx="302.5" cy="1137.5" r="4.9"/>
<circle cx="308.5" cy="1137.5" r="4.9"/>
<circle cx="313.5" cy="1136.5" r="4.9"/>
<circle cx="319.5" cy="1135.5" r="4.9"/>
<circle cx="325.5" cy="1134.5" r="4.9"/>
<circle cx="331.5" cy="1134.5" r="4.9"/>
<circle cx="336.5" cy="1132.5" r="4.9"/>
<circle cx="342.5" cy="1132.5" r="4.9"/>
<circle cx="348.5" cy="1132.5" r="4.9"/>
<circle cx="353.5" cy="1130.5" r="4.9"/>
<circle cx="359.5" cy="1130.5" r="4.9"/>
<circle cx="365.5" cy="1129.5" r="4.9"/>
<circle cx="370.5" cy="1128.5" r="4.9"/>
<circle cx="376.5" cy="1128.5" r="4.9"/>
<circle cx="382.5" cy="1128.5" r="4.9"/>
<circle cx="387.5" cy="1127.5" r="4.9"/>
<circle cx="393.5" cy="1126.5" r="4.9"/>
<circle cx="399.5" cy="1125.5" r="4.9"/>
<circle cx="404.5" cy="1124.5" r="4.9"/>
<circle cx="410.5" cy="1123.5" r="4.9"/>
<circle cx="416.5" cy="1122.5" r="4.9"/>
<circle cx="421.5" cy="1122.5" r="4.9"/>
<circle cx="427.5" cy="1122.5" r="4.9"/>
<circle cx="433.5" cy="1121.5" r="4.9"/>
<circle cx="438.5" cy="1120.5" r="4.9"/>
<circle cx="444.5" cy="1119.5" r="4.9"/>
<circle cx="450.5" cy="1119.5" r="4.9"/>
<circle cx="455.5" cy="1118.5" r="4.9"/>
<circle cx="461.5" cy="1118.5" r="4.9"/>
<circle cx="467.5" cy="1118.5" r="4.9"/>
<circle cx="473.5" cy="1117.5" r="4.9"/>
<circle cx="478.5" cy="1116.5" r="4.9"/>
<circle cx="484.5" cy="1116.5" r="4.9"/>
<circle cx="490.5" cy="1115.5" r="4.9"/>
<circle cx="495.5" cy="1114.5" r="4.9"/>
<circle cx="501.5" cy="1114.5" r="4.9"/>
<circle cx="507.5" cy="1114.5" r="4.9"/>
<circle cx="512.5" cy="1113.5" r="4.9"/>
<circle cx="518.5" cy="1113.5" r="4.9"/>
<circle cx="524.5" cy="1112.5" r="4.9"/>
<circle cx="529.5" cy="1111.5" r="4.9"/>
<circle cx="535.5" cy="1110.5" r="4.9"/>
<circle cx="541.5" cy="1110.5" r="4.9"/>
<circle cx="546.5" cy="1110.5" r="4.9"/>
<circle cx="552.5" cy="1110.5" r="4.9"/>
<circle cx="558.5" cy="1109.5" r="4.9"/>
<circle cx="563.5" cy="1108.5" r="4.9"/>
<circle cx="569.5" cy="1107.5" r="4.9"/>
<circle cx="575.5" cy="1107.5" r="4.9"/>
<circle cx="580.5" cy="1106.5" r="4.9"/>
<circle cx="586.5" cy="1105.5" r="4.9"/>
<circle cx="592.5" cy="1105.5" r="4.9"/>
<circle cx="598.5" cy="1104.5" r="4.9"/>
<circle cx="603.5" cy="1104.5" r="4.9"/>
<circle cx="609.5" cy="1103.5" r="4.9"/>
<circle cx="615.5" cy="1103.5" r="4.9"/>
<circle cx="632.5" cy="1102.5" r="4.9"/>
<circle cx="637.5" cy="1101.5" r="4.9"/>
<circle cx="643.5" cy="1100.5" r="4.9"/>
<circle cx="649.5" cy="1099.5" r="4.9"/>
<circle cx="654.5" cy="1098.5" r="4.9"/>
<circle cx="660.5" cy="1098.5" r="4.9"/>
<circle cx="666.5" cy="1098.5" r="4.9"/>
<circle cx="671.5" cy="1097.5" r="4.9"/>
<circle cx="677.5" cy="1096.5" r="4.9"/>
<circle cx="683.5" cy="1095.5" r="4.9"/>
<circle cx="688.5" cy="1095.5" r="4.9"/>
<circle cx="694.5" cy="1094.5" r="4.9"/>
<circle cx="700.5" cy="1094.5" r="4.9"/>
<circle cx="705.5" cy="1094.5" r="4.9"/>
<circle cx="711.5" cy="1094.5" r="4.9"/>
<circle cx="717.5" cy="1093.5" r="4.9"/>
<circle cx="723.5" cy="1093.5" r="4.9"/>
<circle cx="728.5" cy="1092.5" r="4.9"/>
<circle cx="734.5" cy="1091.5" r="4.9"/>
<circle cx="740.5" cy="1091.5" r="4.9"/>
<circle cx="745.5" cy="1091.5" r="4.9"/>
<circle cx="751.5" cy="1091.5" r="4.9"/>
<circle cx="757.5" cy="1091.5" r="4.9"/>
<circle cx="762.5" cy="1090.5" r="4.9"/>
<circle cx="768.5" cy="1090.5" r="4.9"/>
<circle cx="774.5" cy="1090.5" r="4.9"/>
<circle cx="779.5" cy="1090.5" r="4.9"/>
<circle cx="785.5" cy="1090.5" r="4.9"/>
</g>
<line class="v" x1="626" x2="626" y1="1145" y2="592"/>
<rect class="s" x="86.5" y="592.5" width="699" height="553"/>
<line class="t" x1="81.5" x2="86.5" y1="1145.5" y2="1145.5"/>
<text x="69" y="1151">0</text>
<line class="t" x1="81.5" x2="86.5" y1="1048.5" y2="1048.5"/>
<text x="41 48.75 57.5 66.25" y="1054">5000</text>
<line class="t" x1="81.5" x2="86.5" y1="951.5" y2="951.5"/>
<text x="33 40.88 49.62 58.38 67.12" y="957">10000</text>
<line class="t" x1="81.5" x2="86.5" y1="854.5" y2="854.5"/>
<text x="33 40.88 49.62 58.38 67.12" y="860">15000</text>
<line class="t" x1="81.5" x2="86.5" y1="757.5" y2="757.5"/>
<text x="33 41.75 50.5 59.25 68" y="763">20000</text>
<line class="t" x1="81.5" x2="86.5" y1="660.5" y2="660.5"/>
<text x="33 41.75 50.5 59.25 68" y="666">25000</text>
<line class="t" x1="86.5" x2="86.5" y1="1145.5" y2="1150.5"/>
<line class="t" x1="245.5" x2="245.5" y1="1145.5" y2="1150.5"/>
<line class="t" x1="416.5" x2="416.5" y1="1145.5" y2="1150.5"/>
<line class="t" x1="592.5" x2="592.5" y1="1145.5" y2="1150.5"/>
<line class="t" x1="762.5" x2="762.5" y1="1145.5" y2="1150.5"/>
<line class="t" x1="785.5" x2="785.5" y1="1145.5" y2="1150.5"/>
<line class="m" x1="115.5" x2="115.5" y1="1145.5" y2="1148.5"/>
<line class="m" x1="154.5" x2="154.5" y1="1145.5" y2="1148.5"/>
<line class="m" x1="194.5" x2="194.5" y1="1145.5" y2="1148.5"/>
<line class="m" x1="234.5" x2="234.5" y1="1145.5" y2="1148.5"/>
<line class="m" x1="274.5" x2="274.5" y1="1145.5" y2="1148.5"/>
<line class="m" x1="313.5" x2="313.5" y1="1145.5" y2="1148.5"/>
<line class="m" x1="353.5" x2="353.5" y1="1145.5" y2="1148.5"/>
<line class="m" x1="393.5" x2="393.5" y1="1145.5" y2="1148.5"/>
<line class="m" x1="433.5" x2="433.5" y1="1145.5" y2="1148.5"/>
<line class="m" x1="473.5" x2="473.5" y1="1145.5" y2="1148.5"/>
<line class="m" x1="512.5" x2="512.5" y1="1145.5" y2="1148.5"/>
<line class="m" x1="552.5" x2="552.5" y1="1145.5" y2="1148.5"/>
<line class="m" x1="592.5" x2="592.5" y1="1145.5" y2="1148.5"/>
<line class="m" x1="632.5" x2="632.5" y1="1145.5" y2="1148.5"/>
<line class="m" x1="671.5" x2="671.5" y1="1145.5" y2="1148.5"/>
<line class="m" x1="711.5" x2="711.5" y1="1145.5" y2="1148.5"/>
<line class="m" x1="751.5" x2="751.5" y1="1145.5" y2="1148.5"/>
<text x="233 241.5 250.62" y="1166">Apr</text>
<text x="402 413 421.62" y="1166">May</text>
<text x="581 584 592.75" y="1166">Jun</text>
<text x="754 757 765.75" y="1166">Jul</text>
<text x="228 236.75 245.5 254.25" y="1182">2020</text>
<rect x="681.5" y="599.5" width="97" height="25" rx="2.78" ry="2.78" fill="#fff" fill-opacity="0.8" stroke="#ccc" stroke-opacity="0.8" stroke-width="1.389"/>
<line x1="685" x2="715" y1="610" y2="610" stroke="#1f77b4" stroke-width="2.083"/>
<text x="726 734.12 742.38 751 756.5 765.25" y="615">deaths</text>
</g>
<text x="397.5" y="36" text-anchor="middle" style="font-size:16.667px">Georgia 28 days</text>
</svg></body></html>
